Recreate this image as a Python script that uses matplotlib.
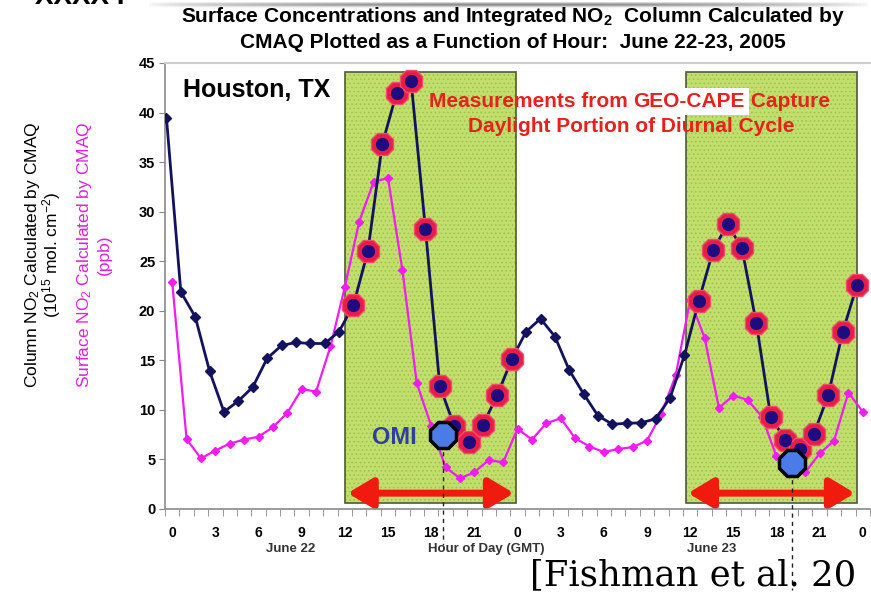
import numpy as np
import matplotlib
matplotlib.use('Agg')
import matplotlib.pyplot as plt
from matplotlib.patches import Rectangle

# CMAQ values, hour 0 .. 48 (June 22-23, GMT)
hours = np.arange(49)
column_no2 = [39.5, 21.9, 19.4, 13.9, 9.8, 10.9, 12.3, 15.2, 16.5, 16.8,
              16.7, 16.7, 17.9, 20.6, 26.0, 36.8, 42.0, 43.2, 28.3, 12.4,
              8.4, 6.8, 8.5, 11.5, 15.1, 17.9, 19.2, 17.4, 14.0, 11.6,
              9.4, 8.55, 8.65, 8.7, 9.1, 11.2, 15.5, 21.0, 26.1, 28.75,
              26.3, 18.75, 9.3, 7.0, 6.1, 7.6, 11.5, 17.85, 22.6]
surface_no2 = [22.9, 7.05, 5.1, 5.9, 6.6, 7.0, 7.3, 8.25, 9.7, 12.1,
               11.85, 16.4, 22.4, 29.0, 33.0, 33.4, 24.1, 12.7, 8.4, 4.2,
               3.1, 3.7, 4.95, 4.7, 8.1, 7.0, 8.65, 9.15, 7.15, 6.3,
               5.75, 6.05, 6.25, 6.9, 9.6, 13.5, 21.1, 17.3, 10.2, 11.45,
               11.0, 9.3, 5.3, 4.4, 3.7, 5.6, 6.9, 11.75, 9.8]
geocape_hours = list(range(13, 25)) + list(range(37, 49))
omi_hours = [18.8, 43.1]
omi_values = [7.5, 4.6]
omi_line_bottom = [-3.6, -8.2]
windows = [(12.0, 23.9), (35.7, 47.6)]
arrows = [(12.2, 23.75), (35.85, 47.45)]
tick_hours = np.arange(0, 49, 3)
tick_labels = [str(h % 24) for h in tick_hours]
col_shift = -0.4   # column series sits a little left of the surface one

plt.rcParams['font.family'] = ['Liberation Sans', 'DejaVu Sans']
plt.rcParams['mathtext.fontset'] = 'custom'
plt.rcParams['mathtext.rm'] = 'Liberation Sans'
plt.rcParams['mathtext.bf'] = 'Liberation Sans:bold'
plt.rcParams['mathtext.it'] = 'Liberation Sans:italic'
plt.rcParams['hatch.linewidth'] = 0.7

W, H = 871, 597
fig = plt.figure(figsize=(W / 100, H / 100), dpi=100)
ax = fig.add_axes([165 / W, 88 / H, 705 / W, 446 / H])
ax.set_xlim(-0.5, 48.5)
ax.set_ylim(0, 45)

# daylight windows
for x0, x1 in windows:
    ax.add_patch(Rectangle((x0, 0.6), x1 - x0, 43.5, facecolor='#c2de6c',
                           edgecolor='#9cc64a', hatch='....', lw=0, zorder=1))
    ax.add_patch(Rectangle((x0, 0.6), x1 - x0, 43.5, fill=False,
                           edgecolor='#4f5a38', lw=1.2, zorder=1.5))
for x0, x1 in arrows:
    ax.annotate('', xy=(x1, 1.6), xytext=(x0, 1.6),
                arrowprops=dict(arrowstyle='<|-|>,head_length=0.75,head_width=0.45',
                                color='#f01a0e', lw=5, shrinkA=0, shrinkB=0,
                                mutation_scale=20), zorder=2)

ax.plot(hours, surface_no2, color='#f01cf0', lw=1.6, marker='D', ms=4.5, zorder=3)
ax.plot(hours + col_shift, column_no2, color='#12125e', lw=2, marker='D', ms=5,
        zorder=4)
gh = np.array(geocape_hours)
gv = [column_no2[h] for h in gh]
ax.plot(gh + col_shift, gv, ls='none', marker='8', ms=17, mfc='#e61c4a',
        mec='#f0506a', mew=1, zorder=5)
ax.plot(gh + col_shift, gv, ls='none', marker='o', ms=9.5, mfc='#1c0c80',
        mec='none', zorder=5.2)

for h, v, b in zip(omi_hours, omi_values, omi_line_bottom):
    ax.plot([h, h], [v, b], ls=(0, (3, 3)), color='#222222', lw=1,
            clip_on=False, zorder=5.5)
ax.plot(omi_hours, omi_values, ls='none', marker='8', ms=20, mfc='#4a7be8',
        mec='black', mew=2.5, zorder=6)

# axes styling
ax.set_yticks(np.arange(0, 46, 5))
ax.set_xticks(tick_hours)
ax.set_xticklabels(tick_labels)
ax.set_xticks(np.arange(-0.5, 49, 1), minor=True)
ax.tick_params(axis='x', which='major', length=0, pad=12, labelsize=10)
ax.tick_params(axis='x', which='minor', length=5, color='#888888')
ax.tick_params(axis='y', length=4, color='#888888', pad=3, labelsize=10.5)
for lab in ax.get_xticklabels() + ax.get_yticklabels():
    lab.set_fontweight('bold')
for s in ['left', 'bottom']:
    ax.spines[s].set_color('#8a8a8a')
    ax.spines[s].set_linewidth(1.2)
ax.spines['top'].set_color('#cfcfcf')
ax.spines['top'].set_linewidth(1.5)
ax.spines['right'].set_visible(False)

# annotations inside the plot
ax.text(0.72, 42.3, 'Houston, TX', fontsize=18, fontweight='bold', va='center')
ax.text(13.9, 7.2, 'OMI', fontsize=17, fontweight='bold', color='#2f3fa0',
        va='center')
red = '#e8201e'
t1 = ax.text(17.85, 41.1, 'Measurements from ', fontsize=15, fontweight='bold',
             color=red, va='center')
t2 = ax.annotate('GEO-CAPE', xy=(1, 0), xycoords=t1, va='bottom', ha='left',
                 fontsize=15, fontweight='bold', color=red,
                 bbox=dict(facecolor='white', edgecolor='none', pad=3))
ax.annotate(' Capture', xy=(1, 0), xycoords=t2, va='bottom', ha='left',
            fontsize=15, fontweight='bold', color=red)
ax.text(31.9, 38.6, 'Daylight Portion of Diurnal Cycle', fontsize=15,
        fontweight='bold', color=red, ha='center', va='center')

# x-axis captions
for x, s in [(8.2, 'June 22'), (21.8, 'Hour of Day (GMT)'), (37.5, 'June 23')]:
    ax.text(x, -4.0, s, fontsize=9.5, fontweight='bold', color='#333333',
            ha='center', va='center', clip_on=False)

# y-axis captions
fig.text(33 / W, 1 - 255 / H, 'Column NO$_2$ Calculated by CMAQ', rotation=90,
         ha='center', va='center', fontsize=12.5)
fig.text(52 / W, 1 - 255 / H, '(10$^{15}$ mol. cm$^{-2}$)', rotation=90,
         ha='center', va='center', fontsize=12.5)
fig.text(85 / W, 1 - 255 / H, 'Surface NO$_2$ Calculated by CMAQ', rotation=90,
         ha='center', va='center', fontsize=12.5, color='#e020e0')
fig.text(104 / W, 1 - 255 / H, '(ppb)', rotation=90,
         ha='center', va='center', fontsize=12.5, color='#e020e0')

# title
fig.text(513 / W, 1 - 17 / H,
         'Surface Concentrations and Integrated NO$_\\mathbf{2}$  Column Calculated by',
         ha='center', va='center', fontsize=15, fontweight='bold')
fig.text(513 / W, 1 - 42 / H, 'CMAQ Plotted as a Function of Hour:  June 22-23, 2005',
         ha='center', va='center', fontsize=15, fontweight='bold')

# slide leftovers: cut-off heading at top-left, shadow line, citation
fig.text(35 / W, 1 - 4 / H, 'XXXX I', fontsize=20, fontweight='bold',
         va='baseline')
sh = fig.add_axes([145 / W, 1 - 10 / H, 726 / W, 8 / H])
gx = np.linspace(0, 1, 200)
gy = np.linspace(0, 1, 8)
prof = np.clip(np.sin(np.pi * gx) ** 0.6, 0, 1)
shade = 1 - 0.45 * np.outer(np.exp(-((gy - 0.3) / 0.3) ** 2), prof)
sh.imshow(shade, cmap='gray', vmin=0, vmax=1, aspect='auto')
sh.axis('off')
fig.text(530 / W, 12 / H, '[Fishman et al. 20', fontsize=25.5,
         family=['DejaVu Serif'], va='baseline', ha='left')

fig.savefig('out.png', dpi=100)
